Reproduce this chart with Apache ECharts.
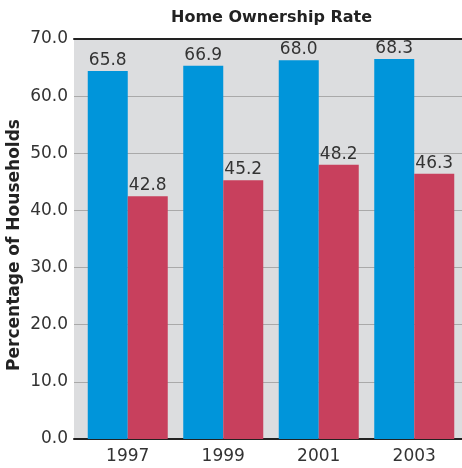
<!DOCTYPE html>
<html>
<head>
<meta charset="utf-8">
<script src="https://cdn.jsdelivr.net/npm/echarts@6/dist/echarts.min.js"></script>
<style>
  html, body { margin: 0; padding: 0; background: #fff; }
  #chart { width: 462px; height: 468px; }
</style>
</head>
<body>
<div id="chart"></div>
<script>
// years on the x axis
const years = ['1997', '1999', '2001', '2003']
// bar heights as drawn in the picture
const blueHeights = [64.4, 65.3, 66.3, 66.5]
const redHeights = [42.5, 45.3, 48.0, 46.4]
// the numbers printed above the bars
const blueLabels = ['65.8', '66.9', '68.0', '68.3']
const redLabels = ['42.8', '45.2', '48.2', '46.3']
// y axis ticks
const yTicks = [0, 10, 20, 30, 40, 50, 60, 70]

const chart = echarts.init(document.getElementById('chart'))
const font = 'DejaVu Sans'
const yMin = yTicks[0]
const yMax = yTicks[yTicks.length - 1]

const option = {
  animation: false,
  title: {
    text: 'Home Ownership Rate',
    left: 166,
    top: 5,
    textStyle: { fontFamily: font, fontSize: 16, fontWeight: 'bold', color: '#222' }
  },
  grid: [
    // grey panel, gridlines and frame lines
    {
      left: 74, right: 0, top: 39, bottom: 29,
      outerBoundsMode: 'none',
      show: true,
      backgroundColor: '#dcdddf',
      borderWidth: 0
    },
    // the bars sit a little inside the panel
    {
      left: 80, right: 0, top: 39, bottom: 29,
      outerBoundsMode: 'none'
    }
  ],
  xAxis: [
    {
      gridIndex: 0,
      type: 'category',
      data: years,
      axisLine: { lineStyle: { color: '#222', width: 2 } },
      axisTick: { show: false },
      axisLabel: { show: false }
    },
    {
      // dark line along the top of the plot
      gridIndex: 0,
      type: 'category',
      data: years,
      position: 'top',
      axisLine: { lineStyle: { color: '#222', width: 2 } },
      axisTick: { show: false },
      axisLabel: { show: false }
    },
    {
      gridIndex: 1,
      type: 'category',
      data: years,
      axisLine: { show: false },
      axisTick: { show: false },
      axisLabel: { fontFamily: font, fontSize: 17, color: '#333', margin: 9 }
    }
  ],
  yAxis: [
    {
      gridIndex: 0,
      type: 'value',
      min: yMin,
      max: yMax,
      interval: 10,
      name: 'Percentage of Households',
      nameLocation: 'middle',
      nameRotate: 90,
      nameGap: 51,
      nameMoveOverlap: false,
      nameTextStyle: {
        fontFamily: font, fontSize: 17, fontWeight: 'bold', color: '#222',
        padding: [0, 12, 0, 0]
      },
      axisLine: { show: false },
      axisTick: { show: false },
      axisLabel: {
        fontFamily: font, fontSize: 17, color: '#333', margin: 6,
        formatter: (v) => v.toFixed(1)
      },
      splitLine: { lineStyle: { color: '#a9a9a9', width: 1 } }
    },
    {
      gridIndex: 1,
      type: 'value',
      min: yMin,
      max: yMax,
      interval: 10,
      show: false,
      splitLine: { show: false }
    }
  ],
  series: [
    {
      type: 'bar',
      xAxisIndex: 2,
      yAxisIndex: 1,
      data: blueHeights,
      barWidth: 40,
      barGap: '0%',
      itemStyle: { color: '#0095da' },
      label: {
        show: true, position: 'top', distance: 2,
        fontFamily: font, fontSize: 17, color: '#333',
        formatter: (p) => blueLabels[p.dataIndex]
      }
    },
    {
      type: 'bar',
      xAxisIndex: 2,
      yAxisIndex: 1,
      data: redHeights,
      barWidth: 40,
      itemStyle: { color: '#c8405d' },
      label: {
        show: true, position: 'top', distance: 2,
        fontFamily: font, fontSize: 17, color: '#333',
        formatter: (p) => redLabels[p.dataIndex]
      }
    }
  ]
}

chart.setOption(option)
</script>
</body>
</html>
